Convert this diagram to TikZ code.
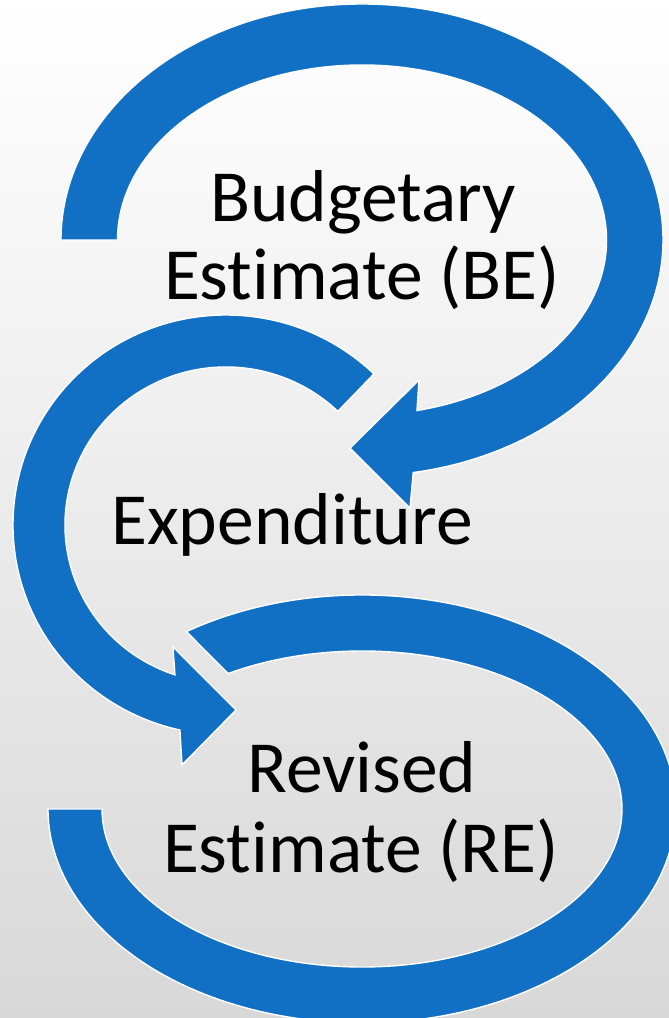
\documentclass[tikz,border=0pt]{standalone}
\usepackage{fontspec}
\setmainfont{Carlito}[Ligatures={NoCommon,NoContextual}]
\usetikzlibrary{calc}
\definecolor{cycleblue}{RGB}{17,112,196}
\definecolor{bgmid}{RGB}{241,241,241}
\definecolor{bgbottom}{RGB}{216,216,216}
\begin{document}
\begin{tikzpicture}[x=1pt,y=1pt,
  cyclearrow/.style={fill=cycleblue, draw=white, line width=1.4pt, line join=miter},
  label/.style={font=\fontsize{73.5}{88}\selectfont, text=black, anchor=base, inner sep=0pt}]
  \useasboundingbox (0,0) rectangle (669,1018);
  \shade[top color=white, middle color=bgmid, bottom color=bgbottom] (0,0) rectangle (669,1018);
  \clip (0,0) rectangle (669,1018);

  % centres of the three elliptic rings
  \coordinate (c1) at (362,778);
  \coordinate (c2) at (226,493);
  \coordinate (c3) at (362,209);

  % upper ring: from the left, over the top, head pointing back to the left
  \coordinate (h1a) at (410,510);
  \coordinate (h1t) at (350,570);
  \coordinate (h1b) at (419,638);
  \draw[cyclearrow] ($(c1)+(180:301pt and 236pt)$)
    arc[start angle=180, end angle=-80.2, x radius=301pt, y radius=236pt]
    -- (h1a) -- (h1t) -- (h1b)
    -- ($(c1)+(-77:244.5pt and 175pt)$)
    arc[start angle=-77, end angle=180, x radius=244.5pt, y radius=175pt]
    -- cycle;

  % middle ring: from the upper right, round the left, head pointing right
  \coordinate (h2a) at (182,253);
  \coordinate (h2t) at (236,308);
  \coordinate (h2b) at (173,371);
  \draw[cyclearrow] ($(c2)+(46:213pt and 210pt)$)
    arc[start angle=46, end angle=257.5, x radius=213pt, y radius=210pt]
    -- (h2a) -- (h2t) -- (h2b)
    -- ($(c2)+(251.5:161pt and 158pt)$)
    arc[start angle=251.5, end angle=46, x radius=161pt, y radius=158pt]
    -- cycle;

  % lower ring: open band, no head
  \draw[cyclearrow] ($(c3)+(124:314pt and 214pt)$)
    arc[start angle=124, end angle=-180, x radius=314pt, y radius=214pt]
    -- ($(c3)+(180:260pt and 158pt)$)
    arc[start angle=-180, end angle=121, x radius=260pt, y radius=158pt]
    -- cycle;

  % labels
  \node[label] (be1) at (363,796) {Budgetary};
  \node[label] (be2) at (362,718) {Estimate (BE)};
  \node[label] (ex)  at (292,473) {Expenditure};
  \node[label] (re1) at (362,225) {Revised};
  \node[label] (re2) at (361,145) {Estimate (RE)};
\end{tikzpicture}
\end{document}
